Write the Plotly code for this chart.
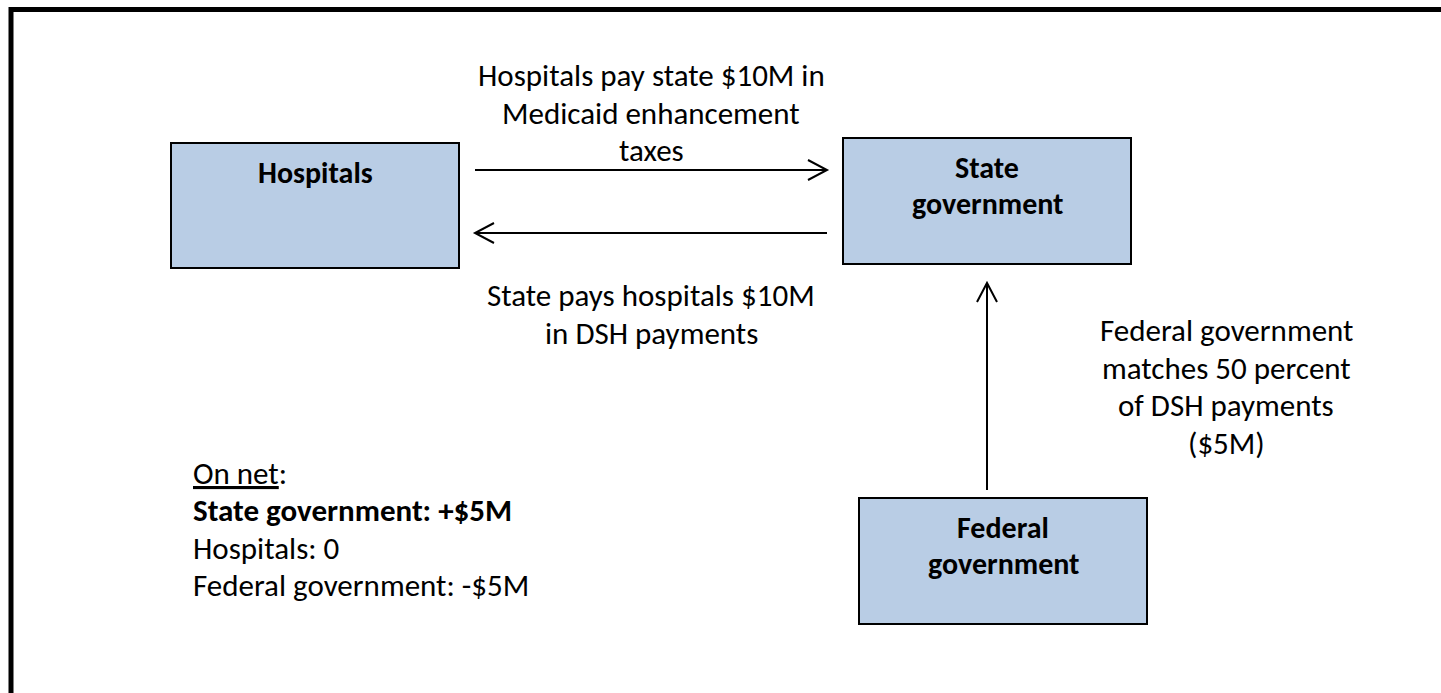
import plotly.graph_objects as go

W, H = 1441, 693

# ---- content ----
box_labels = [["Hospitals"], ["State", "government"], ["Federal", "government"]]
flow_top_lines = ["Hospitals pay state $10M in", "Medicaid enhancement", "taxes"]
flow_back_lines = ["State pays hospitals $10M", "in DSH payments"]
flow_fed_lines = ["Federal government", "matches 50 percent", "of DSH payments", "($5M)"]
net_title = "<u>On net</u>:"
net_entities = ["State government", "Hospitals", "Federal government"]
net_values = ["+$5M", "0", "-$5M"]

# ---- layout geometry (pixels) ----
box_x0 = [171, 843, 859]
box_x1 = [459, 1131, 1147]
box_y0 = [143, 138, 498]
box_y1 = [268, 264, 624]
box_label_top = [172, 167, 527]

FONT = "Carlito, Calibri, Lato, sans-serif"
BOX_FILL = "#B9CDE5"
TXT = 31
BOX_TXT = 30
LINE = 37.5

fig = go.Figure()
fig.add_trace(go.Scatter(x=[0, W], y=[0, H], mode="markers",
                         marker=dict(opacity=0), hoverinfo="skip", showlegend=False))

shapes = []
# outer frame (top and left edges visible)
shapes.append(dict(type="path", path=f"M 11 {H+20} L 11 9.5 L {W+20} 9.5",
                   line=dict(color="black", width=5)))
# boxes
for x0, x1, y0, y1 in zip(box_x0, box_x1, box_y0, box_y1):
    shapes.append(dict(type="rect", x0=x0, x1=x1, y0=y0, y1=y1,
                       fillcolor=BOX_FILL, line=dict(color="black", width=2)))

def arrow(xa, ya, xb, yb, head=19, half=10):
    """arrow from (xa,ya) to (xb,yb), open chevron head at (xb,yb)"""
    dx, dy = xb - xa, yb - ya
    L = (dx * dx + dy * dy) ** 0.5
    ux, uy = dx / L, dy / L
    px, py = -uy, ux
    bx, by = xb - ux * head, yb - uy * head
    p = (f"M {xa} {ya} L {xb} {yb} "
         f"M {bx + px*half} {by + py*half} L {xb} {yb} L {bx - px*half} {by - py*half}")
    return dict(type="path", path=p, line=dict(color="black", width=2))

shapes.append(arrow(475, 170, 827, 170))
shapes.append(arrow(827, 233, 475, 233))
shapes.append(arrow(987, 490, 987, 283))

annotations = []

def add_lines(lines, x, y_first, size, anchor="center", spacing=LINE, bold=False):
    for k, t in enumerate(lines):
        annotations.append(dict(
            x=x, y=y_first + k * spacing, text=f"<b>{t}</b>" if bold else t,
            showarrow=False, xanchor=anchor, yanchor="middle",
            font=dict(family=FONT, size=size, color="black")))

for i, lab in enumerate(box_labels):
    add_lines(lab, (box_x0[i] + box_x1[i]) / 2, box_label_top[i], BOX_TXT,
              spacing=36, bold=True)

add_lines(flow_top_lines, 651, 75, TXT)
add_lines(flow_back_lines, 651, 295, TXT, spacing=38)
add_lines(flow_fed_lines, 1226, 330, TXT)

net_lines = [net_title]
for i, (e, v) in enumerate(zip(net_entities, net_values)):
    line = f"{e}: {v}"
    net_lines.append(f"<b>{line}</b>" if i == 0 else line)
add_lines(net_lines, 191, 473, TXT, anchor="left", spacing=37.3)

fig.update_layout(
    width=W, height=H, margin=dict(l=0, r=0, t=0, b=0),
    paper_bgcolor="white", plot_bgcolor="white",
    xaxis=dict(range=[0, W], visible=False, fixedrange=True),
    yaxis=dict(range=[H, 0], visible=False, fixedrange=True),
    shapes=shapes, annotations=annotations, showlegend=False,
)
fig.write_html("out.html", config={"displayModeBar": False},
               post_script="document.body.style.margin='0px';")
